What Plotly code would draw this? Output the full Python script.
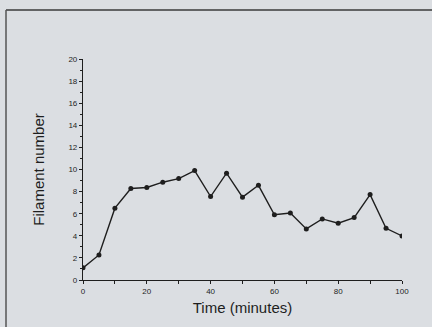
import plotly.graph_objects as go

time_min = [0, 5, 10, 15, 20, 25, 30, 35, 40, 45, 50, 55, 60, 65, 70, 75, 80, 85, 90, 95, 100]
filament = [1.1, 2.27, 6.5, 8.28, 8.37, 8.85, 9.18, 9.9, 7.55, 9.67, 7.5, 8.57, 5.9, 6.07, 4.62, 5.53, 5.14, 5.65, 7.73, 4.68, 3.99]
x_ticks = [0, 20, 40, 60, 80, 100]
y_ticks = [0, 2, 4, 6, 8, 10, 12, 14, 16, 18, 20]

bg = "#dbdee2"
ink = "#1e1e1e"

fig = go.Figure()
fig.add_trace(go.Scatter(
    x=time_min, y=filament, mode="lines+markers",
    line=dict(color=ink, width=1.4),
    marker=dict(color=ink, size=5),
    showlegend=False,
))

fig.update_layout(
    width=432, height=327,
    paper_bgcolor=bg, plot_bgcolor=bg,
    margin=dict(l=83, r=30, t=59, b=47, autoexpand=False),
    font=dict(family="Liberation Sans, Arial, sans-serif", color=ink),
    shapes=[
        dict(type="line", xref="paper", yref="paper", x0=-77/319, x1=30/319 + 1, y0=1 + 49/221, y1=1 + 49/221,
             line=dict(color="#3a3a3a", width=1.5)),
        dict(type="line", xref="paper", yref="paper", x0=-77/319, x1=-77/319, y0=1 + 49/221, y1=-47/221,
             line=dict(color="#555555", width=1.5)),
    ],
)
fig.update_xaxes(
    automargin=False,
    range=[0, 100], tickvals=x_ticks, ticktext=[str(v) for v in x_ticks],
    showgrid=False, zeroline=False, showline=True, linecolor=ink, linewidth=1.2,
    ticks="outside", ticklen=3, tickwidth=1, tickcolor=ink,
    tickfont=dict(size=8, color=ink),
    minor=dict(dtick=10, tick0=0, ticks="outside", ticklen=3, tickcolor=ink, showgrid=False),
    title=dict(text="Time (minutes)", font=dict(size=15, color=ink), standoff=7),
)
fig.update_yaxes(
    automargin=False,
    range=[0, 20], tickvals=y_ticks, ticktext=[str(v) for v in y_ticks],
    showgrid=False, zeroline=False, showline=True, linecolor=ink, linewidth=1.2,
    ticks="outside", ticklen=3, tickwidth=1, tickcolor=ink,
    tickfont=dict(size=8, color=ink),
    minor=dict(dtick=1, tick0=0, ticks="outside", ticklen=2, tickcolor=ink, showgrid=False),
    title=dict(text="Filament number", font=dict(size=15, color=ink), standoff=20),
)

fig.write_html("out.html", config={"displayModeBar": False},
               post_script="document.body.style.margin='0';document.body.style.background='%s';" % bg)
